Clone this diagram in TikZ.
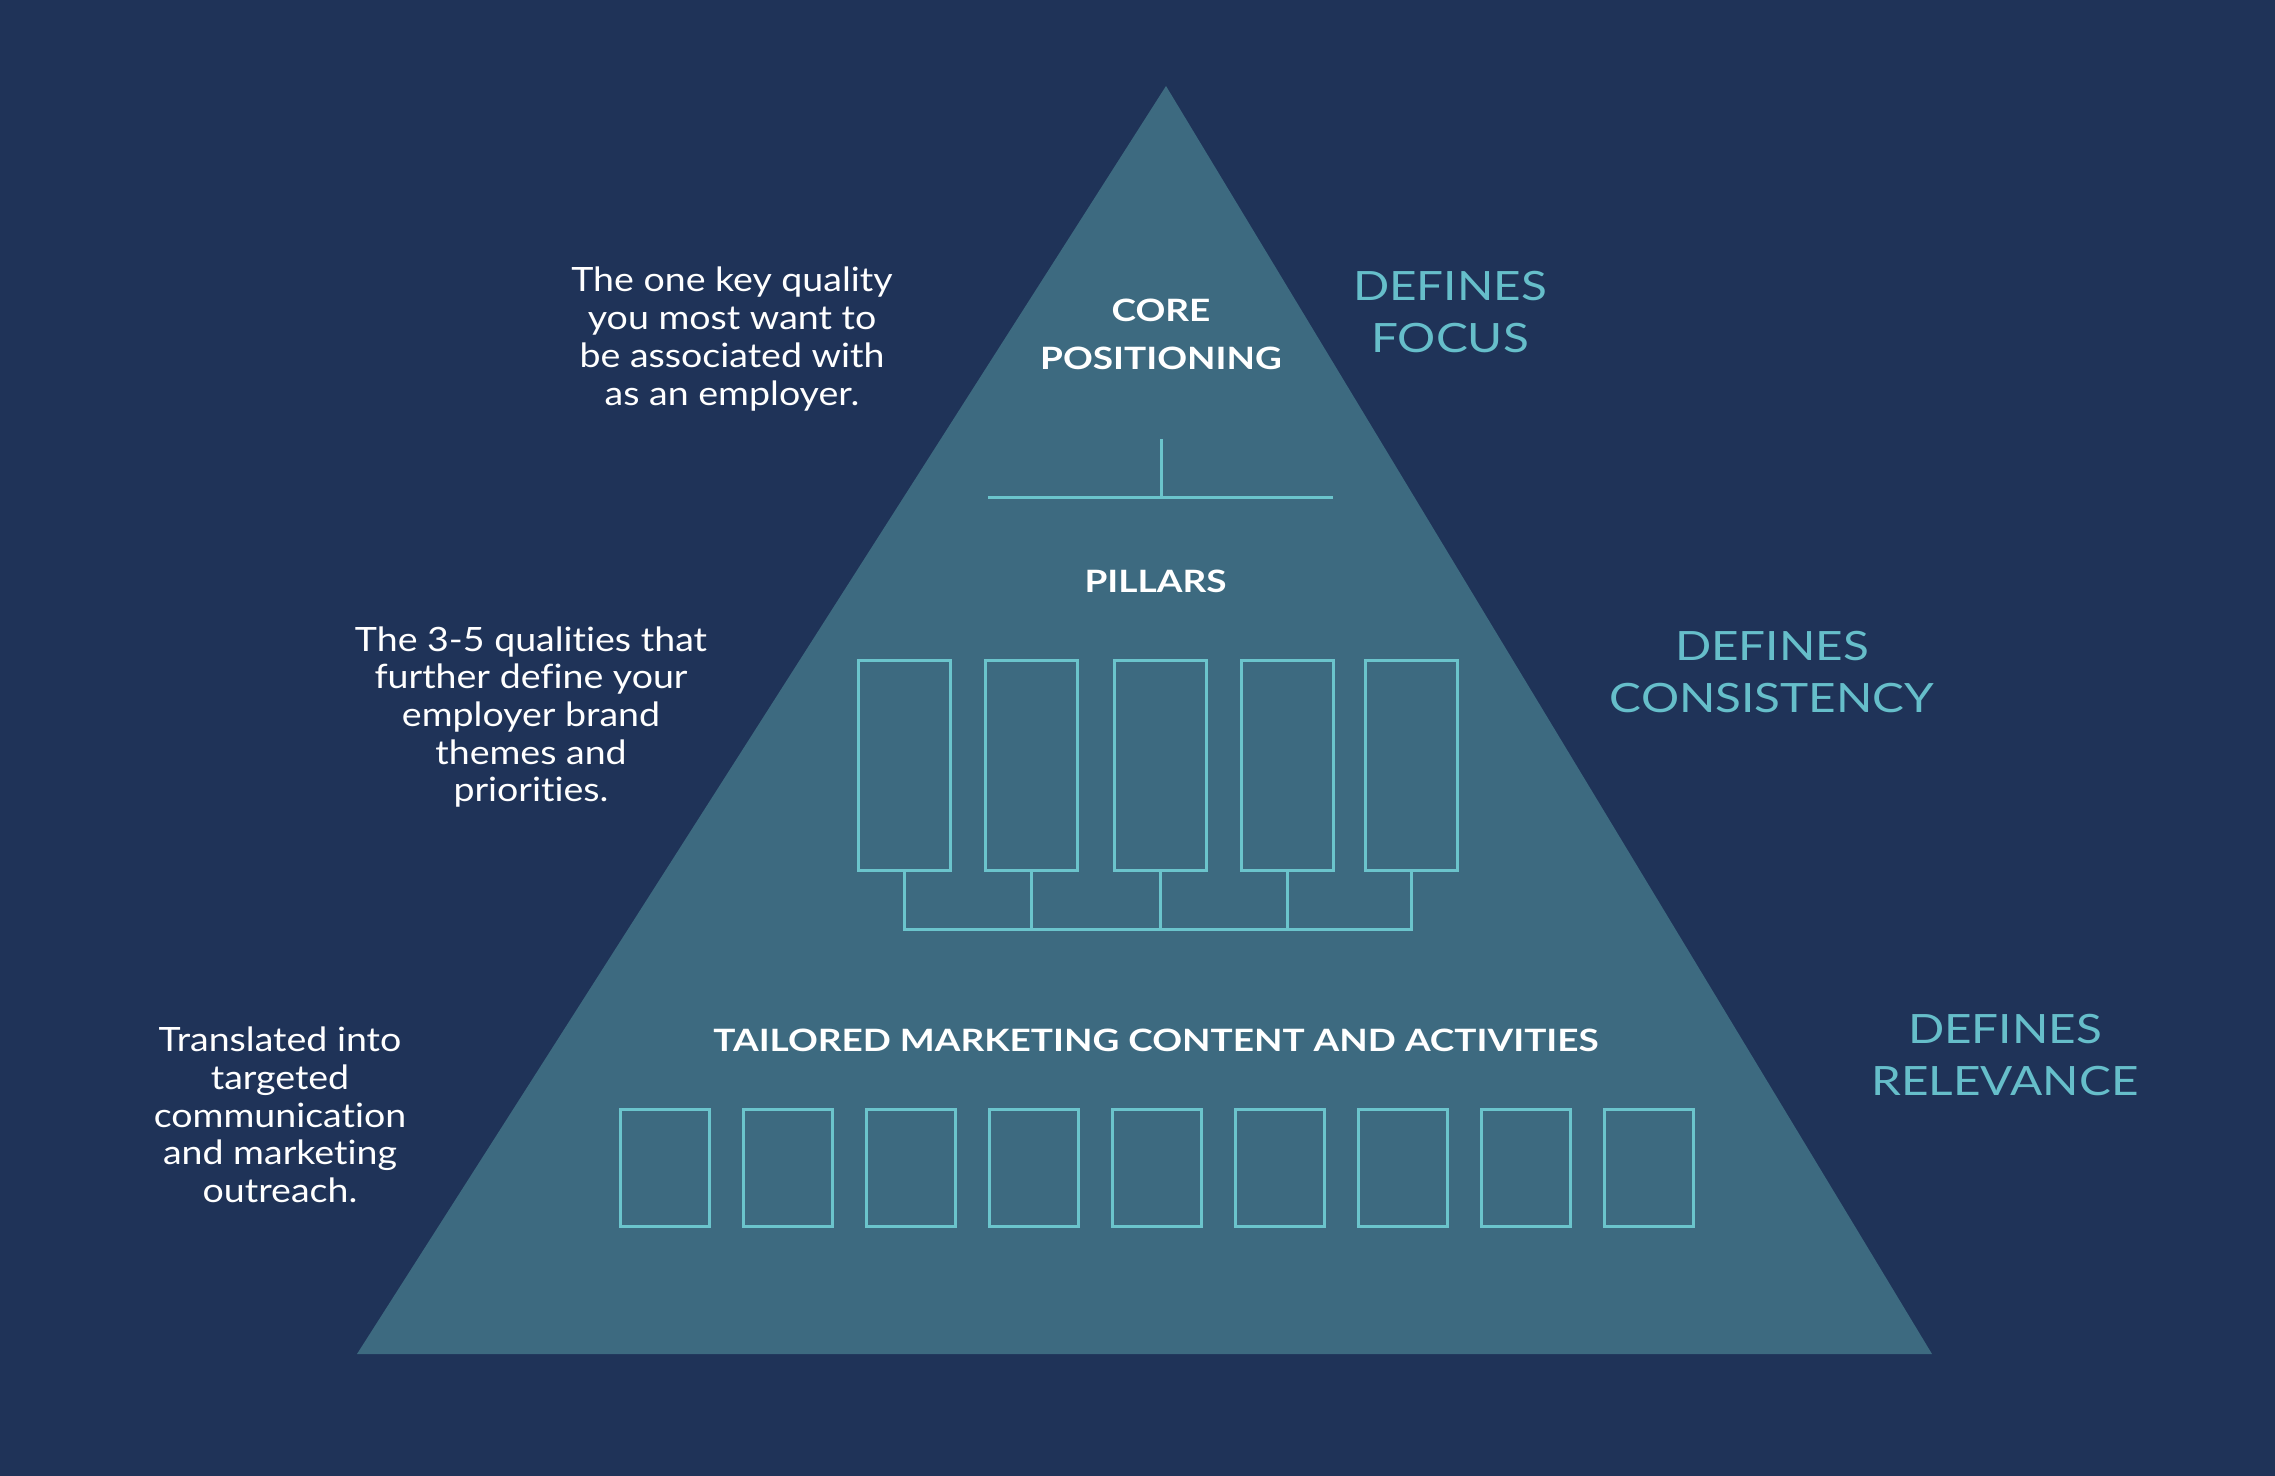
\documentclass[tikz,border=0pt]{standalone}
\usepackage{fontspec}
\setmainfont{Lato}
\newfontfamily\bodyfont{Lato}[FakeStretch=1.12, Ligatures=NoCommon]
\newfontfamily\headfont{Lato}[FakeStretch=1.2, Ligatures=NoCommon]
\newfontfamily\deffont{Lato}[FakeStretch=1.18, Ligatures=NoCommon]
\definecolor{bgnavy}{HTML}{1F3358}
\definecolor{pyr}{HTML}{3D6A80}
\definecolor{tealline}{HTML}{6BC4CC}
\definecolor{tealtext}{HTML}{66BECA}
\begin{document}
\begin{tikzpicture}[x=0.5pt,y=-0.5pt,
  body/.style={text=white, align=center, font=\bodyfont\fontsize{16.75}{18.85}\selectfont, inner sep=0pt},
  head/.style={text=white, align=center, font=\headfont\bfseries\fontsize{15.4}{24}\selectfont, inner sep=0pt},
  defs/.style={text=tealtext, align=center, font=\deffont\fontsize{20.2}{26}\selectfont, inner sep=0pt},
  conn/.style={draw=tealline, line width=1.5pt},
  pillarbox/.style={draw=tealline, line width=1.5pt, minimum width=46pt, minimum height=105pt, inner sep=0pt, anchor=north west},
  itembox/.style={draw=tealline, line width=1.5pt, minimum width=44.5pt, minimum height=58.5pt, inner sep=0pt, anchor=north west}
]
\useasboundingbox (0,0) rectangle (2275,1476);
\fill[bgnavy] (0,0) rectangle (2275,1476);
% pyramid
\coordinate (apex) at (1166,86);
\coordinate (bl) at (357,1354);
\coordinate (br) at (1932,1354);
\fill[pyr] (apex) -- (br) -- (bl) -- cycle;

% titles
\node[head] (core) at (1161,334.5) {CORE\\POSITIONING};
\node[head] (pillars) at (1155.5,581.5) {PILLARS};
\node[head] (tailored) at (1156,1040.5) {TAILORED MARKETING CONTENT AND ACTIVITIES};

% core T connector
\coordinate (ctop) at (1161,439);
\coordinate (cl) at (988,497);
\coordinate (cr) at (1333,497);
\draw[conn] (ctop) -- (ctop |- cl);
\draw[conn] (cl) -- (cr);

% pillars
\node[pillarbox] (p1) at (857,659) {};
\node[pillarbox] (p2) at (984,659) {};
\node[pillarbox] (p3) at (1113,659) {};
\node[pillarbox] (p4) at (1240,659) {};
\node[pillarbox] (p5) at (1364,659) {};
\coordinate (bus) at (0,929);
\draw[conn] (p1.south) -- (p1.south |- bus) -- (p5.south |- bus) -- (p5.south);
\foreach \i in {2,3,4} { \draw[conn] (p\i.south) -- (p\i.south |- bus); }

% item boxes
\foreach \i in {0,...,8} {
  \node[itembox] (b\i) at ({619+123*\i},1108) {};
}

% left descriptions
\node[body] (d1) at (732,339) {The one key quality\\you most want to\\be associated with\\as an employer.};
\node[body] (d2) at (531,717) {The 3-5 qualities that\\further define your\\employer brand\\themes and\\priorities.};
\node[body] (d3) at (280,1115) {Translated into\\targeted\\communication\\and marketing\\outreach.};

% right labels
\node[defs] (f1) at (1450,312.5) {DEFINES\\FOCUS};
\node[defs] (f2) at (1772,672.5) {DEFINES\\CONSISTENCY};
\node[defs] (f3) at (2005,1055) {DEFINES\\RELEVANCE};
\end{tikzpicture}
\end{document}
